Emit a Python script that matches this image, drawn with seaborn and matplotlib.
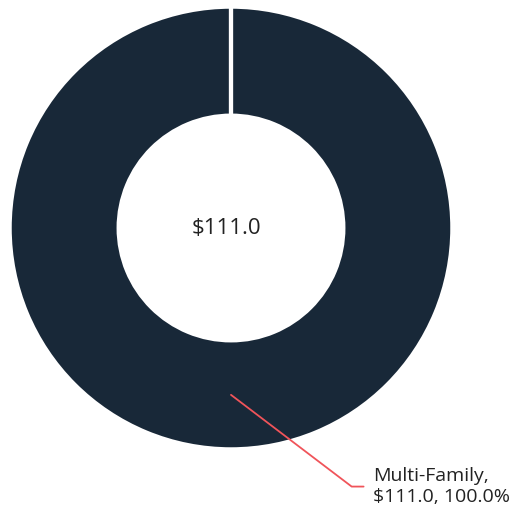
import numpy as np
import matplotlib.pyplot as plt
import seaborn as sns

categories = ["Multi-Family"]
values = [111.0]

sns.set_theme(style="white")
plt.rcParams['font.family'] = ['Open Sans', 'DejaVu Sans']

navy = "#182838"
red = "#f0545a"
ring = 0.49

fig = plt.figure(figsize=(5.15, 5.13), dpi=100)
ax = fig.add_axes([10 / 515, 64 / 513, 442 / 515, 442 / 513])

wedges, _ = ax.pie(values, colors=[navy], startangle=90, counterclock=False,
                   radius=1.0, wedgeprops=dict(width=ring, edgecolor="white", linewidth=2.5))
ax.set_xlim(-1, 1)
ax.set_ylim(-1, 1)
ax.set_aspect("equal")
ax.axis("off")

# slice boundaries (white separators)
for w in wedges:
    for t in (w.theta1, w.theta2):
        a = np.deg2rad(t)
        ax.plot([(1 - ring) * np.cos(a), 1.01 * np.cos(a)],
                [(1 - ring) * np.sin(a), 1.01 * np.sin(a)], color="white", lw=3)

total = sum(values)
ax.text(-0.02, 0.0, f"${total:.1f}", ha="center", va="center", fontsize=16, color="#222222")

for w, cat, v in zip(wedges, categories, values):
    ang = np.deg2rad((w.theta1 + w.theta2) / 2)
    r = 1.0 - ring / 2
    x0, y0 = r * np.cos(ang), r * np.sin(ang)
    ex, ey = 0.546, -1.17
    ax.plot([x0, ex, 0.60], [y0, ey, ey], color=red, lw=1.3, clip_on=False)
    ax.text(0.643, ey, f"{cat},\n${v:.1f}, {v / total * 100:.1f}%", ha="left", va="center",
            fontsize=14, color="#222222", linespacing=1.25)

fig.savefig("out.png", dpi=100)
